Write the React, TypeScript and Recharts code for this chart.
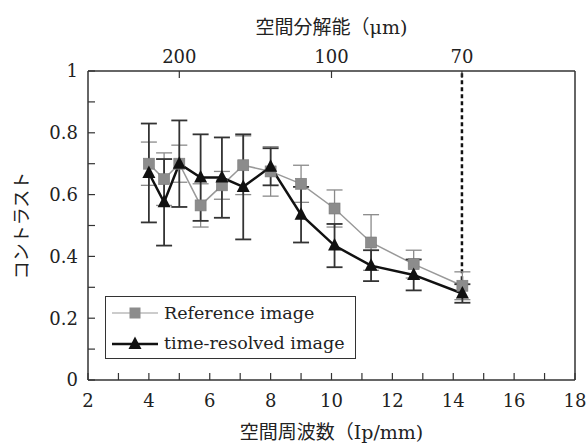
import { ComposedChart, Line, XAxis, YAxis, ErrorBar, ReferenceLine } from 'recharts'

// spatial frequency (lp/mm) of each bar group
const freq = [4, 4.5, 5, 5.7, 6.4, 7.1, 8, 9, 10.1, 11.3, 12.7, 14.3]
// Reference image
const refContrast = [0.7, 0.65, 0.7, 0.565, 0.63, 0.695, 0.675, 0.635, 0.555, 0.445, 0.375, 0.305]
const refError = [0.07, 0.085, 0.06, 0.07, 0.045, 0.095, 0.08, 0.06, 0.06, 0.09, 0.045, 0.045]
// time-resolved image
const trContrast = [0.67, 0.575, 0.7, 0.655, 0.655, 0.625, 0.69, 0.535, 0.435, 0.37, 0.34, 0.28]
const trError = [0.16, 0.14, 0.14, 0.14, 0.13, 0.17, 0.06, 0.09, 0.07, 0.05, 0.05, 0.03]

const xTicks = [2, 3, 4, 5, 6, 7, 8, 9, 10, 11, 12, 13, 14, 15, 16, 17, 18]
const yTicks = [0, 0.1, 0.2, 0.3, 0.4, 0.5, 0.6, 0.7, 0.8, 0.9, 1]
const resolutionTicks = [200, 100, 70] // µm
const limitResolution = 70

const data = freq.map((f, i) => ({
  f,
  ref: refContrast[i],
  refErr: refError[i],
  tr: trContrast[i],
  trErr: trError[i],
}))

const FONT = "'DejaVu Serif', 'Noto Sans CJK JP', serif"
const INK = '#222'
const AXIS = '#333'
const GRAY = '#8c8c8c'

const tickStyle = { fill: INK, fontSize: 18, fontFamily: FONT }

const SquareDot = (props: any) => {
  const { cx, cy, index } = props
  if (cx == null || cy == null) return null
  return <rect key={`sq-${index}`} x={cx - 5.5} y={cy - 5.5} width={11} height={11} fill={GRAY} stroke="#7a7a7a" strokeWidth={0.6} />
}

const TriangleDot = (props: any) => {
  const { cx, cy, index } = props
  if (cx == null || cy == null) return null
  return (
    <polygon
      key={`tri-${index}`}
      points={`${cx},${cy - 7.5} ${cx - 6.5},${cy + 5} ${cx + 6.5},${cy + 5}`}
      fill="#111"
    />
  )
}

function LegendBox() {
  const row = { display: 'flex', alignItems: 'center', height: 30 }
  const text = { fontFamily: FONT, fontSize: 17.5, color: INK, marginLeft: 6, whiteSpace: 'nowrap' as const }
  return (
    <div
      style={{
        position: 'absolute',
        left: 105,
        top: 296,
        width: 251,
        height: 63,
        border: `1.5px solid ${AXIS}`,
        background: '#fff',
        padding: '1px 0 0 6px',
        boxSizing: 'border-box',
      }}
    >
      <div style={row}>
        <svg width={46} height={16}>
          <line x1={0} y1={8} x2={46} y2={8} stroke="#999" strokeWidth={1.2} />
          <rect x={17.5} y={2.5} width={11} height={11} fill={GRAY} />
        </svg>
        <span style={text}>Reference image</span>
      </div>
      <div style={row}>
        <svg width={46} height={16}>
          <line x1={0} y1={9} x2={46} y2={9} stroke="#111" strokeWidth={2.5} />
          <polygon points="23,1.5 16.5,14 29.5,14" fill="#111" />
        </svg>
        <span style={text}>time-resolved image</span>
      </div>
    </div>
  )
}

export default function App() {
  const limitFreq = 1000 / limitResolution
  return (
    <div style={{ position: 'absolute', left: 0, top: 0, width: 587, height: 443, background: '#fff' }}>
      <ComposedChart width={587} height={443} data={data} margin={{ top: 41, right: 12, bottom: 0, left: 0 }}>
        <XAxis
          xAxisId="bottom"
          type="number"
          dataKey="f"
          domain={[2, 18]}
          ticks={xTicks}
          interval={0}
          tickFormatter={(v: number) => (v % 2 === 0 ? String(v) : '')}
          height={63}
          tickSize={-7}
          tickMargin={21}
          tick={tickStyle}
          axisLine={{ stroke: AXIS, strokeWidth: 1.5 }}
          tickLine={{ stroke: AXIS, strokeWidth: 1.2 }}
          label={{ value: '空間周波数（Ip/mm)', position: 'insideBottom', offset: 4, fill: INK, fontSize: 19, fontFamily: FONT }}
        />
        <XAxis
          xAxisId="top"
          orientation="top"
          type="number"
          dataKey="f"
          domain={[2, 18]}
          ticks={resolutionTicks.map((um) => 1000 / um)}
          interval={0}
          tickFormatter={(v: number) => String(Math.round(1000 / v))}
          height={30}
          tickSize={-7}
          tickMargin={15}
          tick={tickStyle}
          axisLine={{ stroke: AXIS, strokeWidth: 1.5 }}
          tickLine={{ stroke: AXIS, strokeWidth: 1.2 }}
          label={{ value: '空間分解能（μm)', position: 'top', offset: 7, fill: INK, fontSize: 19, fontFamily: FONT }}
        />
        <YAxis
          type="number"
          domain={[0, 1]}
          ticks={yTicks}
          interval={0}
          tickFormatter={(v: number) => (Math.round(v * 10) % 2 === 0 ? String(Math.round(v * 10) / 10) : '')}
          width={88}
          tickSize={-7}
          tickMargin={17}
          tick={tickStyle}
          axisLine={{ stroke: AXIS, strokeWidth: 1.5 }}
          tickLine={{ stroke: AXIS, strokeWidth: 1.2 }}
          label={{
            value: 'コントラスト',
            angle: -90,
            position: 'center',
            dx: -22,
            fill: INK,
            fontSize: 18,
            fontFamily: FONT,
          }}
        />
        <ReferenceLine xAxisId="bottom" x={18} stroke={AXIS} strokeWidth={1.5} />
        <ReferenceLine
          xAxisId="bottom"
          segment={[
            { x: limitFreq, y: 0.3 },
            { x: limitFreq, y: 1 },
          ]}
          stroke="#111"
          strokeWidth={2.5}
          strokeDasharray="4 3"
        />
        <Line
          xAxisId="bottom"
          type="linear"
          dataKey="ref"
          stroke="#999"
          strokeWidth={1.5}
          dot={SquareDot}
          activeDot={false}
          isAnimationActive={false}
        >
          <ErrorBar dataKey="refErr" direction="y" width={8} stroke="#8a8a8a" strokeWidth={1.3} />
        </Line>
        <Line
          xAxisId="bottom"
          type="linear"
          dataKey="tr"
          stroke="#111"
          strokeWidth={2.5}
          dot={TriangleDot}
          activeDot={false}
          isAnimationActive={false}
        >
          <ErrorBar dataKey="trErr" direction="y" width={8} stroke="#333" strokeWidth={1.8} />
        </Line>
      </ComposedChart>
      <LegendBox />
    </div>
  )
}
